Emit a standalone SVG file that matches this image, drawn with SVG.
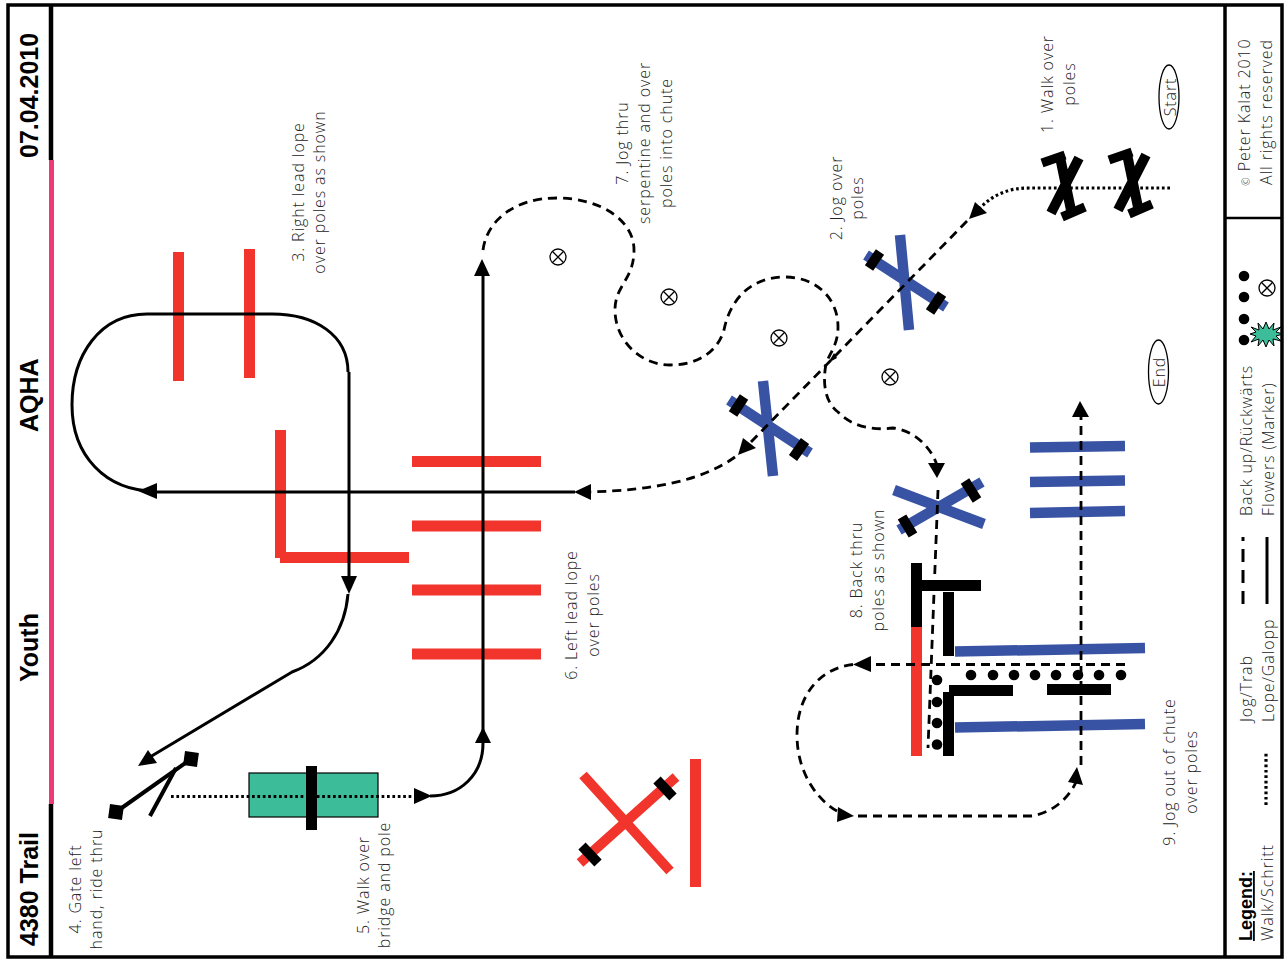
<svg xmlns="http://www.w3.org/2000/svg" xmlns:xlink="http://www.w3.org/1999/xlink" width="1287" height="959" viewBox="0 0 1287 959">
<style>
.t{font-family:"Open Sans","Liberation Sans",sans-serif;font-weight:300;font-size:16px;letter-spacing:.9px;fill:#222;text-anchor:middle}
.s{text-anchor:start}
.h{font-family:"Liberation Sans",Arial,sans-serif;font-weight:700;font-size:25px;fill:#000}
.red{stroke:#f1352d;stroke-width:11;fill:none}
.blue{stroke:#3953a4;stroke-width:10.5;fill:none}
.blk{stroke:#000;stroke-width:11;fill:none}
.solid{stroke:#000;stroke-width:3;fill:none}
.dash{stroke:#000;stroke-width:2.8;fill:none;stroke-dasharray:9 6}
.dot{stroke:#000;stroke-width:3.2;fill:none;stroke-dasharray:2.7 2.7}
.head{fill:#000}
.mk{fill:none;stroke:#000;stroke-width:1.3}
</style>
<defs>
<g id="cx"><circle r="8" class="mk" fill="#fff"/><path d="M-5.7 -5.7L5.7 5.7M-5.7 5.7L5.7 -5.7" class="mk"/></g>
<g id="xblack"><path d="M14 -28L-14 27M-5 -29L7 29" stroke="#000" stroke-width="10" fill="none"/><path d="M-23 -23L0 -31M-3 31L20 21" stroke="#000" stroke-width="9" fill="none"/></g>
</defs>
<rect width="1287" height="959" fill="#fff"/>
<g id="frame">
<rect x="8" y="5" width="1274" height="952" fill="none" stroke="#000" stroke-width="3.5"/>
<path d="M51 5V160" stroke="#000" stroke-width="4.5"/>
<path d="M51 804V957" stroke="#000" stroke-width="4.5"/>
<path d="M51.500 160V804" stroke="#ef3a77" stroke-width="5"/>
<path d="M1225 5V957" stroke="#000" stroke-width="3.5"/>
<path d="M1225 218H1283" stroke="#000" stroke-width="2.500"/>
</g>
<g id="titles">
<text class="h" transform="translate(38,158) rotate(-90)">07.04.2010</text>
<text class="h" transform="translate(38,432) rotate(-90)">AQHA</text>
<text class="h" transform="translate(38,682) rotate(-90)">Youth</text>
<text class="h" transform="translate(38,946) rotate(-90)">4380 Trail</text>
</g>
<g id="red-poles">
<path class="red" d="M178.500 252V381M249.500 249V378M280.500 430V558M280 557.500H409M412 461.500H541M412 526H541M412 590H541M412 654H541M695.500 759V887"/>
<path d="M583 775L670 871M580 863L676 777" class="red" style="stroke-width:10"/>
<path d="M582 846L598 863M657 780L673 797" class="blk" style="stroke-width:10"/>
</g>
<g id="bridge">
<rect x="249" y="773" width="129" height="44" fill="#3cbc98" stroke="#000" stroke-width="1.200"/>
<path d="M311.500 766V830" class="blk"/>
</g>
<g id="gate">
<path d="M116 812L191 759" stroke="#000" stroke-width="4"/>
<path d="M150 816L176 768" stroke="#000" stroke-width="4"/>
<rect x="-7" y="-7" width="14" height="14" transform="translate(116,812) rotate(8)"/>
<rect x="-7" y="-7" width="14" height="14" transform="translate(191,759) rotate(8)"/>
</g>
<g id="start-poles">
<use href="#xblack" transform="translate(1065,186)"/>
<use href="#xblack" transform="translate(1132,183)"/>
</g>
<g id="blue-poles">
<path class="blue" d="M900 235L909 330M866 255L946 307M763 381L773 476M729 400L810 453M894 490L984 524M899 530L982 482M1030 447.500L1125 446M1030 482L1125 480.500M1030 513L1125 511M955 651.500L1145 648M955 727.500L1145 724"/>
<path class="blk" style="stroke-width:10" d="M880 252L869 268M942 294L930 312M744 397L733 414M805 441L793 458M902 517L913 535M965 481L977 500"/>
</g>
<g id="chute">
<path class="red" d="M916.500 627V756"/>
<path class="blk" d="M916.500 563V627M922 585.500H981M948.500 592V656M948.500 692V756M949 690.500H1013M1047 689.500H1111"/>
<g fill="#000">
<circle cx="971" cy="675" r="5.300"/><circle cx="993" cy="675" r="5.300"/><circle cx="1014" cy="675" r="5.300"/><circle cx="1035" cy="675" r="5.300"/><circle cx="1056" cy="675" r="5.300"/><circle cx="1078" cy="675" r="5.300"/><circle cx="1099" cy="675" r="5.300"/><circle cx="1121" cy="675" r="5.300"/>
<circle cx="937" cy="680" r="5.300"/><circle cx="937" cy="702" r="5.300"/><circle cx="937" cy="723" r="5.300"/><circle cx="937" cy="744.500" r="5.300"/>
</g>
</g>
<g id="markers">
<use href="#cx" x="558" y="257"/><use href="#cx" x="669" y="297"/><use href="#cx" x="779" y="338"/><use href="#cx" x="890" y="377"/>
</g>
<g id="connectors">
<path class="dot" d="M1170 188H1030C1010 188 995 193 980 208"/>
<path class="head" d="M969 219L975 202L987 213Z"/>
<path class="dash" d="M967 221L750 443"/>
<path class="head" d="M738 455L743 438L756 448Z"/>
<path class="dash" d="M735 457C700 482 650 490 590 492"/>
<path class="head" d="M574 492L591 484V500Z"/>
<path class="solid" d="M575 492H155"/>
<path class="head" d="M138 491L157 483V499Z"/>
<path class="solid" d="M155 491C105 491 72 455 72 405C72 355 100 314 147 314H272C315 314 348 335 348 372"/>
<path class="solid" d="M349 372V578"/>
<path class="head" d="M349 594L341 576H357Z"/>
<path class="solid" d="M348 594C345 630 325 660 292 672L150 757"/>
<path class="head" d="M138 766L148 750L157 763Z"/>
<path class="dot" d="M171 796.500H417"/>
<path class="head" d="M432 796L414 788V804Z"/>
<path class="solid" d="M430 796C460 796 483 775 483 743V270"/>
<path class="head" d="M483 727L475 743H491Z"/>
<path class="head" d="M482 259L474 276H490Z"/>
<path class="dash" d="M483 250C487 220 515 198 557 198C600 198 634 220 634 250C634 280 615 285 615 310C615 340 640 365 670 365C700 365 718 350 724 330C730 300 750 277 785 277C815 277 838 297 838 327C838 345 830 352 826 364C822 385 826 403 838 412C850 425 870 431 893 428C912 430 930 445 937 465"/>
<path class="head" d="M828 363L834 353L837 358Z"/>
<path class="head" d="M937 478L928 463H945Z"/>
<path class="dash" d="M938 490L928 748"/>
<path class="dash" d="M1125 664.500H868"/>
<path class="head" d="M853 664.500L871 656V672Z"/>
<path class="dash" d="M853 664.500C820 668 797 695 797 735C797 775 820 805 845 815"/>
<path class="head" d="M854 816L838 807L837 822Z"/>
<path class="dash" d="M858 816H1030C1050 814 1068 800 1076 782"/>
<path class="head" d="M1077 767L1068 782L1083 785Z"/>
<path class="dash" d="M1081 765V415"/>
<path class="head" d="M1080 401L1072 417H1089Z"/>
</g>
<g id="start-end">
<ellipse cx="1169" cy="97" rx="10" ry="32" fill="#fff" stroke="#000" stroke-width="1.300"/>
<text class="t" transform="translate(1176,97) rotate(-90)">Start</text>
<ellipse cx="1158.500" cy="372" rx="10" ry="32" fill="#fff" stroke="#000" stroke-width="1.300"/>
<text class="t" transform="translate(1165,372) rotate(-90)">End</text>
</g>
<g id="labels">
<text class="t" transform="translate(1053,84) rotate(-90)">1. Walk over</text>
<text class="t" transform="translate(1075,84) rotate(-90)">poles</text>
<text class="t" transform="translate(842,198) rotate(-90)">2. Jog over</text>
<text class="t" transform="translate(863,198) rotate(-90)">poles</text>
<text class="t" transform="translate(304,192) rotate(-90)">3. Right lead lope</text>
<text class="t" transform="translate(325,192) rotate(-90)">over poles as shown</text>
<text class="t" transform="translate(81,889) rotate(-90)">4. Gate left</text>
<text class="t" transform="translate(102,889) rotate(-90)">hand, ride thru</text>
<text class="t" transform="translate(369,885) rotate(-90)">5. Walk over</text>
<text class="t" transform="translate(390,885) rotate(-90)">bridge and pole</text>
<text class="t" transform="translate(577,615) rotate(-90)">6. Left lead lope</text>
<text class="t" transform="translate(599,615) rotate(-90)">over poles</text>
<text class="t" transform="translate(628,143) rotate(-90)">7. Jog thru</text>
<text class="t" transform="translate(650,143) rotate(-90)">serpentine and over</text>
<text class="t" transform="translate(672,143) rotate(-90)">poles into chute</text>
<text class="t" transform="translate(862,570) rotate(-90)">8. Back thru</text>
<text class="t" transform="translate(884,570) rotate(-90)">poles as shown</text>
<text class="t" transform="translate(1175,772) rotate(-90)">9. Jog out of chute</text>
<text class="t" transform="translate(1197,772) rotate(-90)">over poles</text>
</g>
<g id="copyright">
<text class="t" transform="translate(1250,112) rotate(-90)"><tspan font-size="10">©</tspan> Peter Kalat 2010</text>
<text class="t" transform="translate(1272,112) rotate(-90)">All rights reserved</text>
</g>
<g id="legend">
<text class="t s" transform="translate(1252,941) rotate(-90)" style="font-family:'Liberation Sans',sans-serif;font-weight:700;text-decoration:underline;letter-spacing:0;font-size:18px;fill:#000">Legend:</text>
<text class="t s" transform="translate(1273,941) rotate(-90)">Walk/Schritt</text>
<text class="t s" transform="translate(1252,722) rotate(-90)">Jog/Trab</text>
<text class="t s" transform="translate(1274,722) rotate(-90)">Lope/Galopp</text>
<text class="t s" transform="translate(1252,516) rotate(-90)">Back up/Rückwärts</text>
<text class="t s" transform="translate(1274,516) rotate(-90)">Flowers (Marker)</text>
<path class="dot" d="M1266 805V751"/>
<path d="M1243 604V537" stroke="#000" stroke-width="3" stroke-dasharray="13 8"/>
<path class="solid" d="M1267 604V537"/>
<g fill="#000"><circle cx="1244" cy="276" r="5.300"/><circle cx="1244" cy="297" r="5.300"/><circle cx="1244" cy="319" r="5.300"/><circle cx="1244" cy="340" r="5.300"/></g>
<use href="#cx" x="1267" y="288"/>
<path fill="#3cbc98" stroke="#000" stroke-width="1" d="M1266 322L1269 329L1274 323L1273 330L1281 327L1276 332L1283 334L1276 336L1281 341L1273 339L1274 346L1269 340L1266 347L1263 340L1258 346L1259 339L1251 342L1256 336L1250 334L1256 332L1251 327L1259 330L1258 323L1263 329Z"/>
</g>
</svg>
